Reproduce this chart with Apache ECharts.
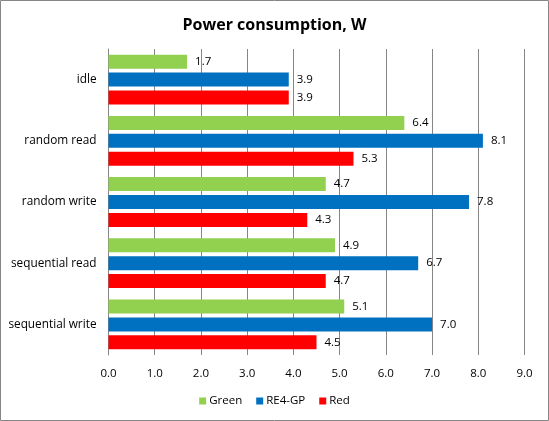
<!DOCTYPE html>
<html><head><meta charset="utf-8">
<script src="https://cdn.jsdelivr.net/npm/echarts@6/dist/echarts.min.js"></script>
<style>html,body{margin:0;padding:0;background:#fff}#c{width:549px;height:421px}</style>
</head><body><div id="c"></div>
<script>
const categories = ['idle', 'random read', 'random write', 'sequential read', 'sequential write'];
const seriesNames = ['Green', 'RE4-GP', 'Red'];
const greenValues = [1.7, 6.4, 4.7, 4.9, 5.1];
const re4gpValues = [3.9, 8.1, 7.8, 6.7, 7.0];
const redValues = [3.9, 5.3, 4.3, 4.7, 4.5];
const colors = ['#92D050', '#0070C0', '#FF0000'];
const xTicks = [0, 1, 2, 3, 4, 5, 6, 7, 8, 9];

const FONT = '"Open Sans", "Liberation Sans", sans-serif';
const chart = echarts.init(document.getElementById('c'), null, {renderer: 'canvas'});
const allValues = [greenValues, re4gpValues, redValues];
chart.setOption({
  animation: false,
  title: {text: 'Power consumption, W', left: 'center', top: 12,
    textStyle: {fontFamily: FONT, fontSize: 16, fontWeight: 'bold', color: '#000'}},
  graphic: [{type: 'rect', shape: {x: 0.5, y: 0.5, width: 548, height: 420},
    style: {fill: 'none', stroke: '#868686', lineWidth: 1}, silent: true}],
  legend: {bottom: 9, left: 'center', itemWidth: 7, itemHeight: 7, itemGap: 14,
    icon: 'rect', data: seriesNames,
    textStyle: {fontFamily: FONT, fontSize: 11.5, color: '#000', padding: [0, 0, 0, -2]}},
  grid: {left: 108.5, right: 24.5, top: 49, bottom: 66},
  xAxis: {type: 'value', min: xTicks[0], max: xTicks[xTicks.length - 1], interval: 1,
    axisLine: {show: false}, axisTick: {show: false},
    splitLine: {show: true, lineStyle: {color: '#868686', width: 1}},
    axisLabel: {formatter: v => v.toFixed(1), fontFamily: FONT, fontSize: 11.5, color: '#000', margin: 13}},
  yAxis: {type: 'category', data: categories, inverse: true,
    axisLine: {show: true, lineStyle: {color: '#868686'}}, axisTick: {show: false},
    axisLabel: {fontFamily: FONT, fontSize: 11.8, color: '#000', margin: 12}},
  series: seriesNames.map((n, i) => ({
    name: n, type: 'bar', data: allValues[i], barWidth: 14, barGap: '28%',
    itemStyle: {color: colors[i]},
    label: {show: true, position: 'right', distance: 8, formatter: p => p.value.toFixed(1),
      fontFamily: FONT, fontSize: 11.5, color: '#000'}
  }))
});
</script></body></html>
